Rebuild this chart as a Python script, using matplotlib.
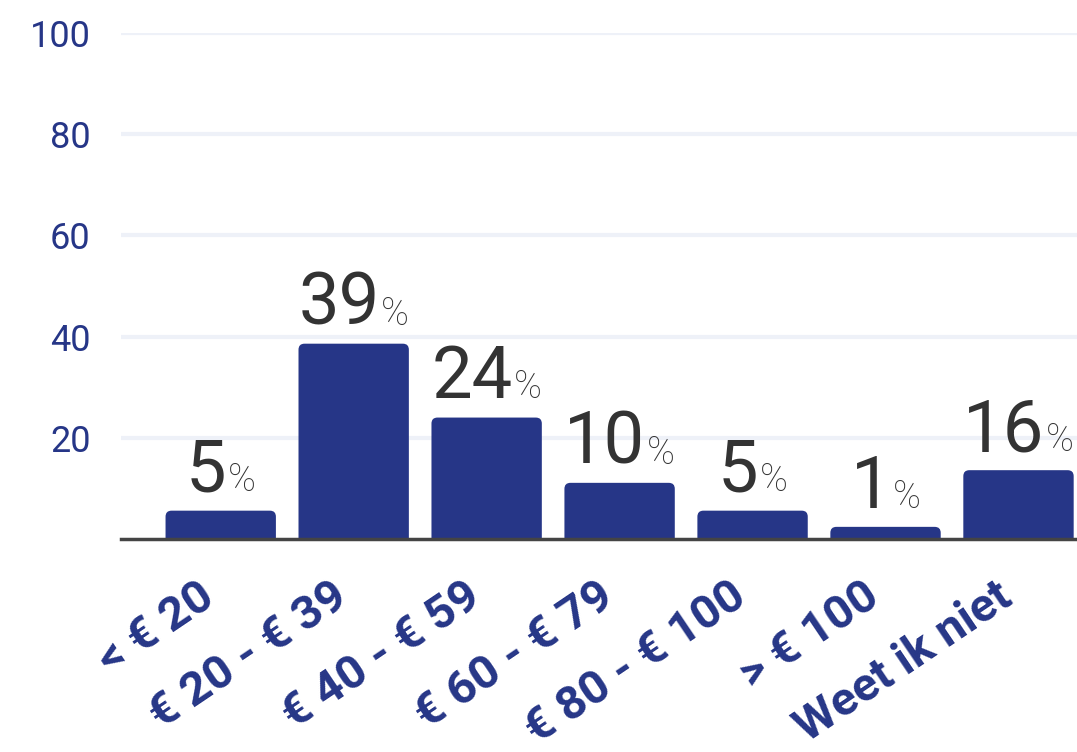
import matplotlib
matplotlib.use("Agg")
import matplotlib.pyplot as plt
import matplotlib.transforms as mtransforms
from matplotlib.patches import FancyBboxPatch
from matplotlib.offsetbox import TextArea, HPacker, AnnotationBbox

# Data
categories = ['< € 20', '€ 20 - € 39', '€ 40 - € 59', '€ 60 - € 79',
              '€ 80 - € 100', '> € 100', 'Weet ik niet']
bar_heights = [5.6, 38.6, 24.0, 11.1, 5.6, 2.4, 13.6]
value_labels = [5, 39, 24, 10, 5, 1, 16]
yticks = [20, 40, 60, 80, 100]

navy = '#263687'
text_dark = '#333333'

plt.rcParams['font.family'] = ['Roboto', 'DejaVu Sans']

fig = plt.figure(figsize=(10.77, 7.52), dpi=100)
ax = fig.add_axes([121 / 1077, 1 - 539 / 752, 1 - 121 / 1077, (539 - 33) / 752])

x = list(range(len(categories)))
xlim = (-0.75, 6.44)
ylim = (0, 100)
ax.set_xlim(*xlim)
ax.set_ylim(*ylim)

# pixel scale for rounded corners
ax_w = fig.get_figwidth() * fig.dpi * ax.get_position().width
ax_h = fig.get_figheight() * fig.dpi * ax.get_position().height
px_x = ax_w / (xlim[1] - xlim[0])
px_y = ax_h / (ylim[1] - ylim[0])
radius_px = 6
r_x = radius_px / px_x
aspect = px_x / px_y

bar_w = 0.83
bars = ax.bar(x, bar_heights, width=bar_w, color=navy)
for b in bars:
    x0, w, h = b.get_x(), b.get_width(), b.get_height()
    b.remove()
    extra = r_x * aspect * 2
    patch = FancyBboxPatch((x0, -extra), w, h + extra,
                           boxstyle=f"round,pad=0,rounding_size={r_x}",
                           mutation_aspect=aspect,
                           facecolor=navy, edgecolor='none', zorder=3)
    ax.add_patch(patch)

# value labels: big number + small %
for xi, h, v in zip(x, bar_heights, value_labels):
    num = TextArea(str(v), textprops=dict(fontsize=52, color=text_dark,
                                          fontweight='normal'))
    pct = TextArea('%', textprops=dict(fontsize=27, color=text_dark,
                                       fontweight='light'))
    box = HPacker(children=[num, pct], align='baseline', pad=0, sep=1)
    ab = AnnotationBbox(box, (xi, h), xybox=(0, 3), xycoords='data',
                        boxcoords='offset points', box_alignment=(0.5, 0),
                        frameon=False, zorder=4)
    ax.add_artist(ab)

# grid and axes styling
ax.set_yticks(yticks)
ax.set_yticklabels([str(t) for t in yticks], fontsize=26, color=navy)
ax.yaxis.grid(True, color='#eef1f8', linewidth=3)
ax.set_axisbelow(True)
ax.tick_params(axis='y', length=0, pad=22)
ax.tick_params(axis='x', length=0, pad=34)

ax.set_xticks(x)
ax.set_xticklabels(categories, rotation=34, ha='right', va='center',
                   rotation_mode='anchor', fontsize=34, fontweight='bold',
                   color=navy)
shift = mtransforms.ScaledTranslation(-8 / 72, -4 / 72, fig.dpi_scale_trans)
for lbl in ax.get_xticklabels():
    lbl.set_transform(lbl.get_transform() + shift)

for s in ['top', 'right', 'left']:
    ax.spines[s].set_visible(False)
ax.spines['bottom'].set_color('#444444')
ax.spines['bottom'].set_linewidth(2.5)
ax.spines['bottom'].set_zorder(5)

fig.savefig('out.png', dpi=100)
